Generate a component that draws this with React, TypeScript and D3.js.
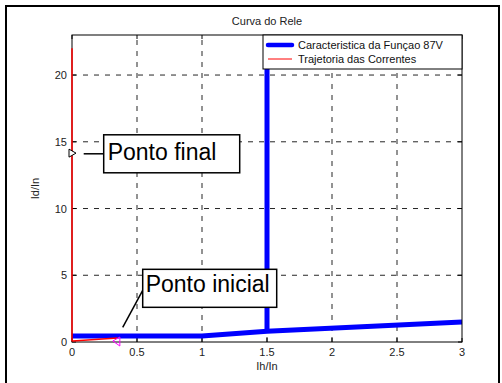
import React from "react";
import * as d3 from "d3";

const W = 502;
const H = 383;

// Characteristic of the 87V function (thick blue)
const charIh = [0, 1, 1.5, 3];
const charId = [0.45, 0.45, 0.8, 1.5];
const charVertIh = [1.5, 1.5];
const charVertId = [0.8, 23];

// Current trajectory (red)
const trajIh = [0.35, 0.005, 0, 0];
const trajId = [0.3, 0.07, 0.1, 22];

// Markers
const startPoint = { ih: 0.345, id: 0.0 };
const endPoint = { ih: 0, id: 14.15 };

const xTicks = [0, 0.5, 1, 1.5, 2, 2.5, 3];
const xTickLabels = ["0", "0.5", "1", "1.5", "2", "2.5", "3"];
const yTicks = [0, 5, 10, 15, 20];
const yTickLabels = ["0", "5", "10", "15", "20"];

const title = "Curva do Rele";
const xLabel = "Ih/In";
const yLabel = "Id/In";
const legendLabels = ["Caracteristica da Funçao 87V", "Trajetoria das Correntes"];

const annFinal = { text: "Ponto final", ih: 0.09, id: 14.1 };
const annInicial = { text: "Ponto inicial", ih: 0.39, id: 1.1 };

export default function App() {
  const left = 72, right = 462, top = 35, bottom = 342;
  const x = d3.scaleLinear().domain([0, 3]).range([left, right]);
  const y = d3.scaleLinear().domain([0, 23]).range([bottom, top]);

  const line = d3
    .line<[number, number]>()
    .x((d) => x(d[0]))
    .y((d) => y(d[1]));

  const charPts = charIh.map((v, i) => [v, charId[i]] as [number, number]);
  const charVert = charVertIh.map((v, i) => [v, charVertId[i]] as [number, number]);
  const trajPts = trajIh.map((v, i) => [v, trajId[i]] as [number, number]);

  const font = "Liberation Sans, Arial, Helvetica, sans-serif";
  const tl = 4;

  const sx = x(startPoint.ih), sy = y(startPoint.id);
  const ex = x(endPoint.ih), ey = y(endPoint.id);

  const fx = x(annFinal.ih), fy = y(annFinal.id);
  const fBox = { x: fx + 20, y: fy - 19, w: 136, h: 38 };
  const ix = x(annInicial.ih), iy = y(annInicial.id);
  const iBox = { x: ix + 20, y: iy - 58, w: 134, h: 38 };

  return (
    <svg
      width={W}
      height={H}
      style={{ position: "absolute", left: 0, top: 0, background: "#fff" }}
      fontFamily={font}
    >
      <rect x={0} y={0} width={W} height={H} fill="#fff" />
      <rect x={6} y={6} width={493} height={420} fill="none" stroke="#000" strokeWidth={2} />
      <defs>
        <clipPath id="plotclip">
          <rect x={left} y={top} width={right - left} height={bottom - top} />
        </clipPath>
      </defs>
      {/* grid */}
      <g stroke="#000" strokeWidth={1} strokeDasharray="5,6" opacity={0.85}>
        {xTicks.slice(1, -1).map((t) => (
          <line key={"gx" + t} x1={x(t)} x2={x(t)} y1={bottom} y2={top} />
        ))}
        {yTicks.slice(1).map((t) => (
          <line key={"gy" + t} x1={left} x2={right} y1={y(t)} y2={y(t)} />
        ))}
      </g>
      {/* ticks */}
      <g stroke="#000" strokeWidth={1}>
        {xTicks.map((t) => (
          <g key={"tx" + t}>
            <line x1={x(t)} x2={x(t)} y1={bottom} y2={bottom - tl} />
            <line x1={x(t)} x2={x(t)} y1={top} y2={top + tl} />
          </g>
        ))}
        {yTicks.map((t) => (
          <g key={"ty" + t}>
            <line x1={left} x2={left + tl} y1={y(t)} y2={y(t)} />
            <line x1={right} x2={right - tl} y1={y(t)} y2={y(t)} />
          </g>
        ))}
      </g>
      {/* characteristic */}
      <g clipPath="url(#plotclip)">
        <path d={line(charPts) || ""} fill="none" stroke="#0000ff" strokeWidth={5} />
        <path d={line(charVert) || ""} fill="none" stroke="#0000ff" strokeWidth={5} />
      </g>
      {/* axes box */}
      <rect x={left} y={top} width={right - left} height={bottom - top} fill="none" stroke="#000" strokeWidth={1} />
      {/* trajectory */}
      <path d={line(trajPts) || ""} fill="none" stroke="#ff0000" strokeWidth={1.5} />
      <path
        d={`M${sx - 4},${sy - 1} L${sx + 3},${sy - 5} L${sx + 3},${sy + 4} Z`}
        fill="none"
        stroke="#ff00ff"
        strokeWidth={1}
      />
      <path
        d={`M${ex - 3},${ey - 4} L${ex + 4},${ey} L${ex - 3},${ey + 4} Z`}
        fill="#fff"
        stroke="#000"
        strokeWidth={1}
      />
      {/* tick labels */}
      <g fontSize={11} fill="#222">
        {xTicks.map((t, i) => (
          <text key={"lx" + t} x={x(t)} y={bottom + 14} textAnchor="middle">
            {xTickLabels[i]}
          </text>
        ))}
        {yTicks.map((t, i) => (
          <text key={"ly" + t} x={left - 5} y={y(t) + 4} textAnchor="end">
            {yTickLabels[i]}
          </text>
        ))}
      </g>
      <text x={(left + right) / 2} y={bottom + 28} fontSize={11} fill="#222" textAnchor="middle">
        {xLabel}
      </text>
      <text
        transform={`translate(${39},${(top + bottom) / 2}) rotate(-90)`}
        fontSize={11}
        fill="#222"
        textAnchor="middle"
      >
        {yLabel}
      </text>
      <text x={(left + right) / 2} y={25} fontSize={11} fill="#222" textAnchor="middle">
        {title}
      </text>
      {/* legend */}
      <g>
        <rect x={263} y={top} width={right - 263} height={34} fill="#fff" stroke="#000" strokeWidth={1} />
        <line x1={268} x2={292} y1={45} y2={45} stroke="#0000ff" strokeWidth={4.5} strokeLinecap="round" />
        <line x1={268} x2={292} y1={59} y2={59} stroke="#ff0000" strokeWidth={1} />
        <text x={298} y={49} fontSize={11} fill="#111">{legendLabels[0]}</text>
        <text x={298} y={63} fontSize={11} fill="#111">{legendLabels[1]}</text>
      </g>
      {/* annotation final */}
      <line x1={fx} x2={fBox.x} y1={fy} y2={fy} stroke="#000" strokeWidth={1.5} />
      <rect x={fBox.x} y={fBox.y} width={fBox.w} height={fBox.h} fill="#fff" stroke="#000" strokeWidth={1.5} />
      <text x={fBox.x + 4} y={fBox.y + 25} fontSize={23} fill="#000">{annFinal.text}</text>
      {/* annotation inicial */}
      <line x1={ix} x2={iBox.x} y1={iy} y2={iy - 37} stroke="#000" strokeWidth={1.5} />
      <rect x={iBox.x} y={iBox.y} width={iBox.w} height={iBox.h} fill="#fff" stroke="#000" strokeWidth={1.5} />
      <text x={iBox.x + 3} y={iBox.y + 23} fontSize={23} fill="#000">{annInicial.text}</text>
    </svg>
  );
}
